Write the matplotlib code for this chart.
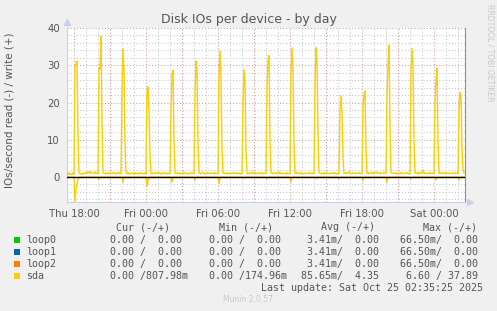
import numpy as np
import matplotlib
matplotlib.use('Agg')
import matplotlib.pyplot as plt
from matplotlib.ticker import MultipleLocator

# hours after Thu 18:00, 5 minute samples starting Thu 17:25
t_start = -7/12
step = 1/12

# sda writes, one row per 2 hours
write_v = [
    1.0, 0.6, 1.1, 0.8, 0.9, 0.6, 1.1, 0.8, 29.6, 30.4, 31.1, 12.0, 1.2, 0.8, 1.0, 0.7, 1.1, 0.9, 1.0, 1.3, 1.0, 1.4, 1.1, 1.5,
    1.0, 1.2, 1.1, 0.9, 1.4, 1.0, 1.1, 0.9, 29.3, 29.0, 37.7, 15.0, 1.2, 0.9, 1.1, 0.8, 1.0, 1.2, 0.9, 1.1, 1.0, 0.9, 1.2, 1.0,
    1.1, 0.8, 1.0, 1.3, 0.9, 1.0, 0.9, 24.0, 34.5, 28.0, 9.0, 1.1, 0.9, 1.2, 0.8, 1.0, 0.9, 1.1, 1.0, 0.8, 1.2, 0.9, 1.0, 1.1,
    0.8, 1.0, 1.2, 0.9, 1.0, 0.8, 1.1, 0.9, 22.5, 24.2, 18.0, 6.0, 1.0, 0.8, 1.1, 0.9, 1.2, 1.0, 0.9, 1.3, 1.0, 1.1, 0.8, 1.0,
    1.2, 0.9, 1.0, 1.1, 0.8, 1.0, 0.9, 1.1, 18.0, 27.5, 28.7, 10.0, 1.0, 0.9, 1.1, 1.0, 1.2, 0.8, 1.0, 1.1, 0.9, 1.3, 1.0, 0.9,
    1.0, 0.8, 1.1, 1.0, 0.9, 1.2, 1.0, 0.9, 22.0, 31.1, 29.0, 9.0, 1.1, 1.0, 0.9, 1.1, 1.3, 1.0, 0.8, 1.0, 1.2, 0.9, 1.0, 1.1,
    0.9, 1.1, 1.0, 0.8, 1.2, 1.0, 0.9, 1.1, 26.0, 33.8, 27.0, 8.0, 1.0, 1.1, 0.9, 1.0, 1.2, 0.8, 1.0, 1.1, 0.9, 1.0, 1.2, 1.0,
    1.0, 1.2, 0.9, 1.0, 1.1, 0.8, 1.0, 0.9, 20.0, 28.9, 25.0, 7.0, 1.0, 0.8, 1.0, 1.1, 0.9, 1.3, 1.0, 1.2, 1.1, 0.9, 1.0, 1.1,
    0.9, 1.0, 1.2, 1.0, 0.8, 1.1, 1.0, 0.9, 24.0, 31.5, 32.6, 10.0, 1.1, 1.0, 0.9, 1.1, 1.0, 1.2, 0.9, 1.0, 1.4, 1.1, 0.9, 1.0,
    1.1, 0.9, 1.0, 0.8, 1.2, 1.0, 0.9, 1.0, 27.0, 34.7, 30.0, 9.0, 1.0, 0.9, 1.3, 1.0, 1.1, 0.9, 1.2, 1.0, 0.8, 1.0, 1.1, 0.9,
    1.0, 1.1, 0.9, 1.2, 1.0, 0.9, 1.1, 1.0, 25.0, 34.7, 31.0, 12.0, 1.2, 1.0, 0.9, 1.1, 0.8, 1.0, 1.2, 0.9, 1.1, 1.0, 0.9, 1.0,
    0.9, 1.0, 1.2, 0.9, 1.1, 1.0, 0.8, 1.0, 0.9, 18.0, 21.8, 17.0, 5.0, 1.0, 1.1, 0.9, 1.2, 1.0, 1.4, 1.1, 0.9, 1.0, 1.2, 1.0,
    1.0, 0.9, 1.1, 1.0, 1.2, 0.9, 1.0, 1.1, 19.0, 22.0, 23.1, 8.0, 1.0, 1.2, 0.9, 1.1, 1.0, 1.3, 0.9, 1.0, 1.2, 1.4, 1.0, 1.1,
    1.0, 1.2, 0.9, 1.1, 1.0, 1.3, 1.0, 1.1, 22.0, 30.0, 35.4, 14.0, 1.2, 1.0, 0.9, 1.1, 1.2, 1.0, 0.8, 1.1, 1.0, 0.9, 1.2, 1.0,
    0.9, 1.0, 1.1, 0.9, 1.2, 1.0, 0.8, 1.0, 28.0, 34.5, 30.0, 10.0, 1.0, 1.2, 1.0, 0.9, 1.3, 1.0, 1.2, 1.0, 1.9, 1.1, 1.0, 0.9,
    1.0, 1.1, 0.9, 1.2, 1.0, 0.9, 1.1, 1.0, 20.0, 26.0, 29.2, 10.0, 1.0, 1.1, 0.9, 1.2, 1.0, 1.1, 0.9, 1.2, 1.0, 1.1, 0.9, 1.0,
    1.0, 0.9, 1.1, 1.2, 1.0, 0.9, 1.1, 1.0, 18.0, 22.7, 21.0, 8.0, 2.0, 1.0, 0.9,
]

# sda reads (drawn negative)
read_h = [-0.58, 0.0, 0.08, 0.17, 0.25, 0.33, 0.42,
          2.0, 2.08, 2.17, 4.0, 4.08, 4.17, 6.0, 6.08, 6.17, 6.25,
          8.08, 8.17, 8.25, 10.0, 10.08, 10.17, 12.0, 12.08, 12.17,
          14.08, 14.17, 14.25, 16.0, 16.08, 16.17, 18.0, 18.08, 18.17,
          20.08, 20.17, 20.25, 22.0, 22.08, 22.17, 24.0, 24.08, 24.17,
          26.0, 26.08, 26.17, 28.0, 28.08, 28.17, 30.08, 30.17, 30.25,
          32.0, 32.08, 32.17, 32.58]
read_v = [0, 0, -6.6, -3.2, -1.9, -0.6, 0,
          0, -0.6, 0, 0, -1.4, 0, 0, -2.6, -0.8, 0,
          0, -1.4, 0, 0, -0.9, 0, 0, -1.8, 0,
          0, -0.3, 0, 0, -0.45, 0, 0, -1.3, 0,
          0, -0.3, 0, 0, -0.5, 0, 0, -1.0, 0,
          0, -1.4, 0, 0, -0.5, 0, 0, -0.7, 0,
          0, -0.8, 0, 0]

tick_hours = [0, 6, 12, 18, 24, 30]
tick_labels = ['Thu 18:00', 'Fri 00:00', 'Fri 06:00', 'Fri 12:00', 'Fri 18:00', 'Sat 00:00']

names = ['loop0', 'loop1', 'loop2', 'sda']
colors = ['#00cc00', '#0066b3', '#ff8000', '#ffcc00']
cur = ['0.00 /  0.00', '0.00 /  0.00', '0.00 /  0.00', '0.00 /807.98m']
mins = ['0.00 /  0.00', '0.00 /  0.00', '0.00 /  0.00', '0.00 /174.96m']
avgs = ['3.41m/  0.00', '3.41m/  0.00', '3.41m/  0.00', '85.65m/  4.35']
maxs = ['66.50m/  0.00', '66.50m/  0.00', '66.50m/  0.00', '6.60 / 37.89']

W, H = 497, 311
bg = '#f0f0f0'
txt = '#555555'
mono = 'DejaVu Sans Mono'

fig = plt.figure(figsize=(W/100, H/100), dpi=100, facecolor=bg)
ax = fig.add_axes([67/W, 1-202/H, 398/W, 174/H])
ax.set_facecolor('white')

write_h = t_start + step*np.arange(len(write_v))
ax.plot(write_h, write_v, color='#ffcc00', lw=1.0, zorder=3)
ax.plot(read_h, read_v, color='#ffcc00', lw=1.0, zorder=3)
ax.axhline(0, color='black', lw=1.0, zorder=4)

ax.set_xlim(t_start, 32.583)
ax.set_ylim(-6.71, 40)
ax.set_xticks(tick_hours)
ax.set_xticklabels(tick_labels)
ax.set_yticks([0, 10, 20, 30, 40])
ax.xaxis.set_minor_locator(MultipleLocator(1))
ax.yaxis.set_minor_locator(MultipleLocator(2))
ax.tick_params(length=0, labelsize=7.3, colors=txt, pad=5)
ax.tick_params(which='minor', length=0)

dots = (0, (1, 2))
ax.grid(which='minor', color='#c4c4c4', lw=0.75, ls=dots, zorder=1)
for h in np.arange(0, 33, 3):
    ax.axvline(h, color='#e09a9a', lw=0.75, ls=dots, zorder=2)
for v in [0, 10, 20, 30, 40]:
    ax.axhline(v, color='#e09a9a', lw=0.75, ls=dots, zorder=2)

for s in ['top']:
    ax.spines[s].set_visible(False)
ax.spines['left'].set_color('#c8d0ec')
ax.spines['bottom'].set_color('#c8d0ec')
ax.spines['right'].set_color('#909090')
ax.spines['bottom'].set_zorder(5)
# axis arrows
ax.plot([0], [1.035], marker='^', ms=5, color='#c8d0ec', transform=ax.transAxes, clip_on=False)
ax.plot([1.013], [0], marker='>', ms=5, color='#c8d0ec', transform=ax.transAxes, clip_on=False)

fig.text(0.5, 1-19/H, 'Disk IOs per device - by day', ha='center', va='center', fontsize=9, color=txt)
fig.text(10/W, 1-110/H, 'IOs/second read (-) / write (+)', rotation=90, ha='center', va='center',
         fontsize=7.5, color=txt)
fig.text(490/W, 1-53/H, 'RRDTOOL / TOBI OETIKER', rotation=270, ha='center', va='center',
         fontsize=5.5, color='#c8c8c8')

# legend table
fs = 7.2
for label, xr in zip(['Cur (-/+)', 'Min (-/+)', 'Avg (-/+)', 'Max (-/+)'], [170, 273, 375, 477]):
    fig.text(xr/W, 1-227.5/H, label, ha='right', va='center', family=mono, fontsize=fs, color=txt)
for i, name in enumerate(names):
    y = 240 + 12*i
    fig.patches.append(plt.Rectangle((14/W, 1-(y+3)/H), 6/W, 6/H, transform=fig.transFigure,
                                     facecolor=colors[i], edgecolor='none'))
    fig.text(26/W, 1-y/H, name, ha='left', va='center', family=mono, fontsize=fs, color=txt)
    fig.text(110/W, 1-y/H, cur[i], ha='left', va='center', family=mono, fontsize=fs, color=txt)
    fig.text(209/W, 1-y/H, mins[i], ha='left', va='center', family=mono, fontsize=fs, color=txt)
    fig.text(379/W, 1-y/H, avgs[i], ha='right', va='center', family=mono, fontsize=fs, color=txt)
    fig.text(478/W, 1-y/H, maxs[i], ha='right', va='center', family=mono, fontsize=fs, color=txt)
fig.text(483/W, 1-288/H, 'Last update: Sat Oct 25 02:35:25 2025', ha='right', va='center',
         family=mono, fontsize=fs, color=txt)
fig.text(248/W, 1-300/H, 'Munin 2.0.57', ha='center', va='center', fontsize=5.5, color='#c8c8c8')

fig.savefig('out.png', dpi=100, facecolor=bg)
